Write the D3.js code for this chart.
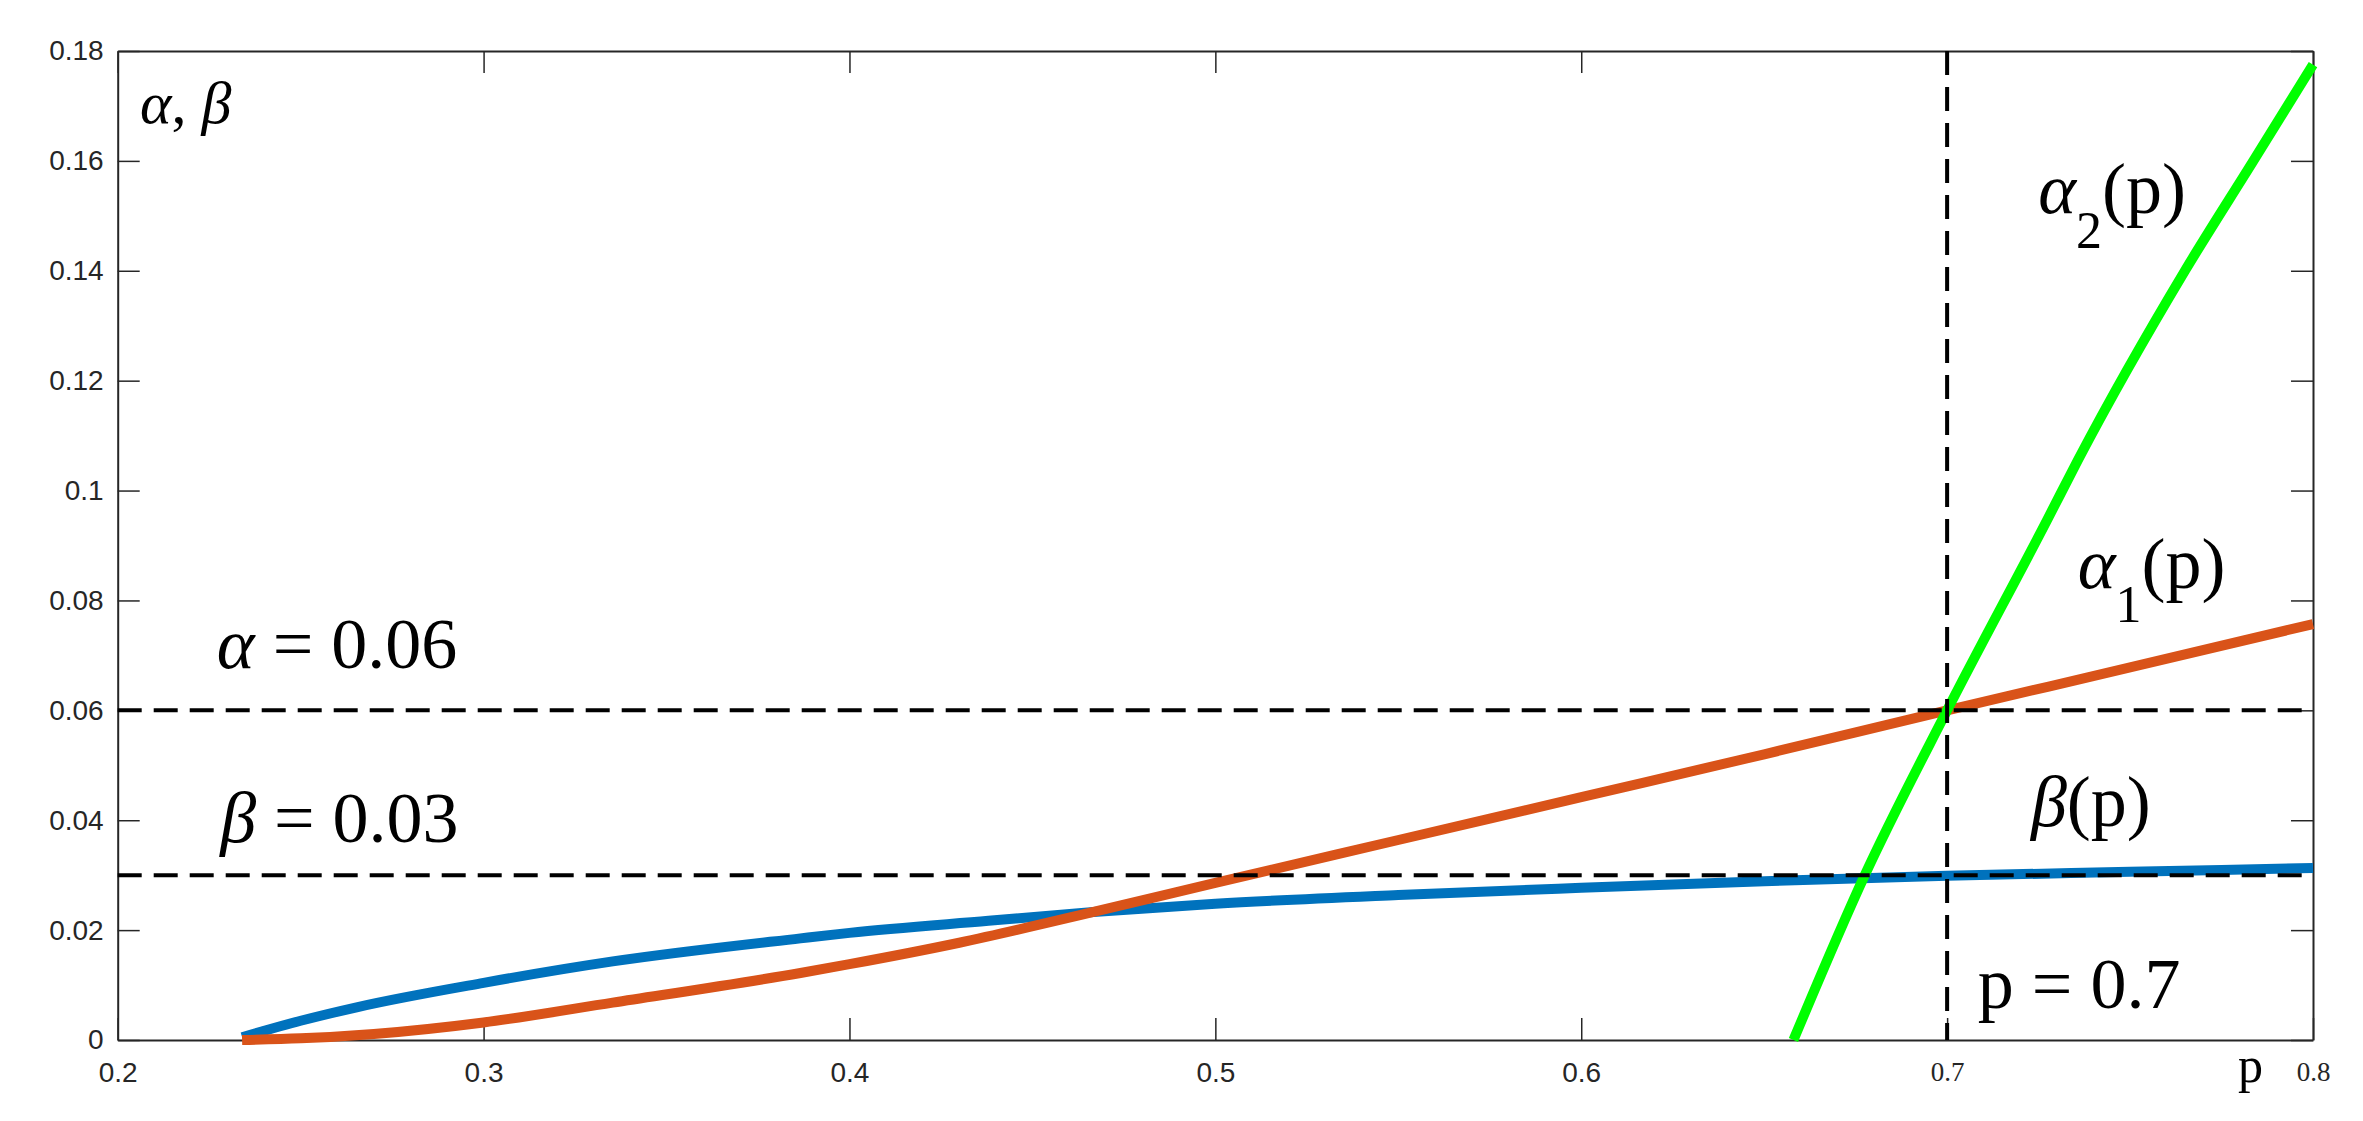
<!DOCTYPE html>
<html>
<head>
<meta charset="utf-8">
<script src="https://cdn.jsdelivr.net/npm/d3@7"></script>
<style>
  body { margin: 0; background: #fff; }
  svg { display: block; }
</style>
</head>
<body>
<svg id="chart" width="2363" height="1121"></svg>
<script>
// values
const xTicks = [0.2, 0.3, 0.4, 0.5, 0.6, 0.7, 0.8];
const yTicks = [0, 0.02, 0.04, 0.06, 0.08, 0.1, 0.12, 0.14, 0.16, 0.18];

const pBeta = [0.234, 0.25, 0.2656, 0.3, 0.3353, 0.3866, 0.4, 0.438, 0.4667, 0.5, 0.55, 0.6, 0.65, 0.7, 0.75, 0.8];
const vBeta = [0.0005, 0.0035, 0.006, 0.0104, 0.0143, 0.0185, 0.0195, 0.0217, 0.0233, 0.0248, 0.0264, 0.0277, 0.0289, 0.0299, 0.0306, 0.0313];

const pAlpha1 = [0.234, 0.25, 0.27, 0.3, 0.3353, 0.3866, 0.4, 0.43, 0.4667, 0.5, 0.55, 0.6, 0.65, 0.7, 0.75, 0.8];
const vAlpha1 = [0, 0.0003, 0.0011, 0.0032, 0.0068, 0.0122, 0.0138, 0.0177, 0.0233, 0.0286, 0.0364, 0.0442, 0.052, 0.06, 0.0678, 0.0757];

const pAlpha2 = [0.658, 0.6775, 0.7, 0.7273, 0.7358, 0.765, 0.7837, 0.8];
const vAlpha2 = [0, 0.03, 0.06, 0.0946, 0.1056, 0.14, 0.16, 0.1775];

const alphaLevel = 0.06;
const betaLevel = 0.03;
const pLevel = 0.7;

const svg = d3.select("#chart");
const plotLeft = 117.7, plotRight = 2313, plotTop = 51, plotBottom = 1040;
const axisColor = "#262626";
const serif = "'Liberation Serif', 'Times New Roman', serif";
const sans = "'Liberation Sans', Arial, sans-serif";

const x = d3.scaleLinear().domain([0.2, 0.8]).range([plotLeft, plotRight]);
const y = d3.scaleLinear().domain([0, 0.18]).range([plotBottom, plotTop]);

const fmt = (d) => String(+d.toFixed(2));

// axes, ticks pointing inward on all four sides
const gx = svg.append("g").attr("transform", `translate(0,${plotBottom})`)
  .call(d3.axisBottom(x).tickValues(xTicks).tickFormat(fmt).tickSizeInner(-22).tickSizeOuter(0).tickPadding(22));
const gy = svg.append("g").attr("transform", `translate(${plotLeft},0)`)
  .call(d3.axisLeft(y).tickValues(yTicks).tickFormat(fmt).tickSizeInner(-22).tickSizeOuter(0).tickPadding(14));
const gt = svg.append("g").attr("transform", `translate(0,${plotTop})`)
  .call(d3.axisTop(x).tickValues(xTicks).tickFormat("").tickSizeInner(-22).tickSizeOuter(0));
const gr = svg.append("g").attr("transform", `translate(${plotRight},0)`)
  .call(d3.axisRight(y).tickValues(yTicks).tickFormat("").tickSizeInner(-22).tickSizeOuter(0));

[gx, gy, gt, gr].forEach((g) => {
  g.select(".domain").attr("stroke", axisColor).attr("stroke-width", 2);
  g.selectAll(".tick line").attr("stroke", axisColor).attr("stroke-width", 1.5);
  g.selectAll("text").attr("fill", axisColor).attr("font-family", sans).attr("font-size", 28);
});
// the last two x labels are set in a serif face in the original
gx.selectAll(".tick text").filter((d) => d >= 0.7)
  .attr("font-family", serif).attr("font-size", 27);

// curves
const line = (ps, vs) => d3.line()
  .x((d, i) => x(ps[i]))
  .y((d, i) => y(vs[i]))
  .curve(d3.curveMonotoneX)(vs);

svg.append("path").attr("d", line(pBeta, vBeta))
  .attr("fill", "none").attr("stroke", "#0072BD").attr("stroke-width", 10);
svg.append("path").attr("d", line(pAlpha1, vAlpha1))
  .attr("fill", "none").attr("stroke", "#D95319").attr("stroke-width", 10);
svg.append("path").attr("d", line(pAlpha2, vAlpha2))
  .attr("fill", "none").attr("stroke", "#00FF00").attr("stroke-width", 10);

// dashed reference lines
const dash = "24,12";
svg.append("line").attr("x1", x(0.2)).attr("x2", x(0.8))
  .attr("y1", y(alphaLevel)).attr("y2", y(alphaLevel))
  .attr("stroke", "#000").attr("stroke-width", 4).attr("stroke-dasharray", dash);
svg.append("line").attr("x1", x(0.2)).attr("x2", x(0.8))
  .attr("y1", y(betaLevel)).attr("y2", y(betaLevel))
  .attr("stroke", "#000").attr("stroke-width", 4).attr("stroke-dasharray", dash);
svg.append("line").attr("x1", x(pLevel)).attr("x2", x(pLevel))
  .attr("y1", y(0.18)).attr("y2", y(0))
  .attr("stroke", "#000").attr("stroke-width", 4).attr("stroke-dasharray", dash);

// annotations
function label(px, py, size, parts) {
  const t = svg.append("text")
    .attr("x", x(px)).attr("y", y(py))
    .attr("font-family", serif).attr("font-size", size).attr("fill", "#000");
  parts.forEach((p) => {
    const s = t.append("tspan").text(p.t);
    if (p.i) s.attr("font-style", "italic");
    if (p.s) s.attr("font-size", p.s);
    if (p.dy) s.attr("dy", p.dy);
  });
  return t;
}

label(0.2061, 0.1669, 60, [{ t: "α", i: 1 }, { t: ", " }, { t: "β", i: 1 }]);
label(0.2271, 0.0677, 72, [{ t: "α", i: 1 }, { t: " = 0.06" }]);
label(0.228, 0.036, 72, [{ t: "β", i: 1 }, { t: " = 0.03" }]);
label(0.7249, 0.1505, 72, [{ t: "α", i: 1 }, { t: "2", s: 52, dy: 35 }, { t: "(p)", dy: -35 }]);
label(0.7357, 0.0823, 72, [{ t: "α", i: 1 }, { t: "1", s: 52, dy: 34 }, { t: "(p)", dy: -34 }]);
label(0.7229, 0.0389, 72, [{ t: "β", i: 1 }, { t: "(p)" }]);
label(0.7084, 0.0058, 72, [{ t: "p = 0.7" }]);

// axis label p, sitting under the axis next to 0.8
svg.append("text").attr("x", x(0.7795)).attr("y", plotBottom + 42)
  .attr("font-family", serif).attr("font-size", 50).attr("fill", "#000")
  .text("p");
</script>
</body>
</html>
